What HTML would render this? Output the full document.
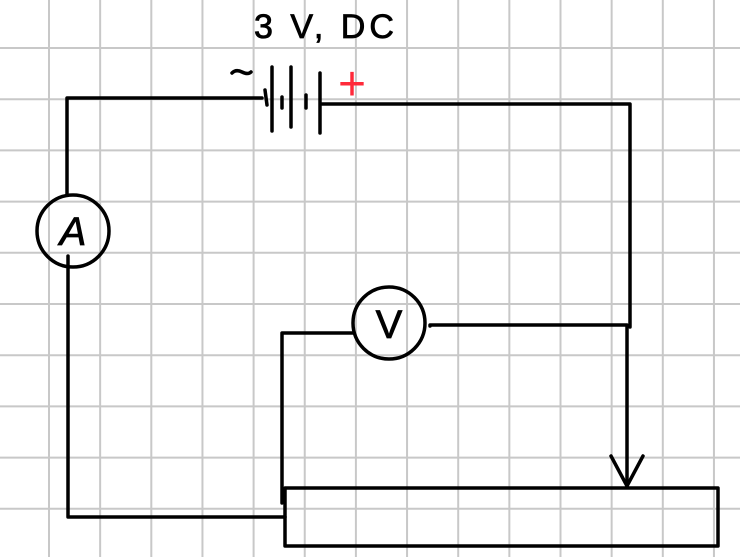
<!DOCTYPE html>
<html><head><meta charset="utf-8"><style>
html,body{margin:0;padding:0;background:#fff;}
svg{display:block;}
</style></head><body>
<svg width="740" height="557" viewBox="0 0 740 557" xmlns="http://www.w3.org/2000/svg">
<g id="grid" stroke="#c8c8c8" stroke-width="2"></g>
<g fill="none" stroke="#000" stroke-width="3.5" stroke-linecap="round" stroke-linejoin="round">
  <path d="M262 98 H67 V194"/>
  <circle cx="73" cy="231" r="36"/>
  <path d="M68 256 V517 H285"/>
  <path d="M265 90 L267 105"/>
  <path d="M272 67 V131"/>
  <path d="M282 97 V108"/>
  <path d="M291 67 V127"/>
  <path d="M306 95 V108"/>
  <path d="M320 73 V133"/>
  <path d="M322 104 H630 V327"/>
  <circle cx="389" cy="323" r="36"/>
  <path d="M353 333 H282 V503"/>
  <path d="M430 326 V325 H627 V486"/>
  <path d="M611 456 L627 486 L643 456"/>
  <rect x="285" y="488" width="433" height="58"/>
  <path d="M232 73 Q236 69 242 72 T251 72"/>
</g>
<g font-family="Liberation Sans, sans-serif">
  <text x="73" y="245" font-size="40" text-anchor="middle" font-style="italic" stroke="#000" stroke-width="0.8">A</text>
  <text x="389" y="338" font-size="40" text-anchor="middle" stroke="#000" stroke-width="0.8">V</text>
  <text x="254" y="38" font-size="34" letter-spacing="4" stroke="#000" stroke-width="0.8">3 V, DC</text>
  <text x="352" y="100" font-size="48" fill="#ff2a3a" text-anchor="middle">+</text>
</g>
<script>
var g=document.getElementById('grid');
for(var k=0;k<15;k++){var x=49+51.15*k;var l=document.createElementNS('http://www.w3.org/2000/svg','line');l.setAttribute('x1',x);l.setAttribute('x2',x);l.setAttribute('y1',0);l.setAttribute('y2',557);


g.appendChild(l);}
for(var k=0;k<11;k++){var y=48+51.2*k;var l=document.createElementNS('http://www.w3.org/2000/svg','line');l.setAttribute('y1',y);l.setAttribute('y2',y);l.setAttribute('x1',0);l.setAttribute('x2',740);


g.appendChild(l);}
</script>
</svg>
</body></html>
